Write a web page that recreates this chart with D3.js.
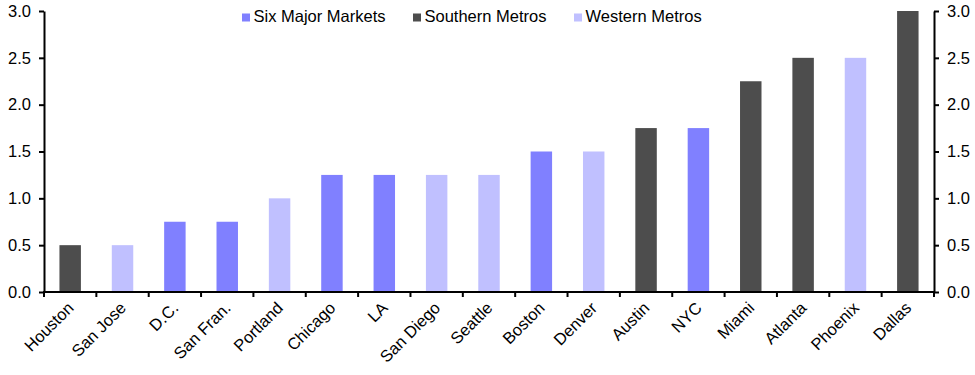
<!DOCTYPE html>
<html><head><meta charset="utf-8">
<script src="https://cdn.jsdelivr.net/npm/d3@7"></script>
<style>body{margin:0;background:#fff}svg{display:block;font-family:"Liberation Sans",Arial,sans-serif}</style>
</head><body><svg id="c" width="975" height="375"></svg>
<script>
const categories = ["Houston","San Jose","D.C.","San Fran.","Portland","Chicago","LA","San Diego","Seattle","Boston","Denver","Austin","NYC","Miami","Atlanta","Phoenix","Dallas"];
const values = [0.5,0.5,0.75,0.75,1.0,1.25,1.25,1.25,1.25,1.5,1.5,1.75,1.75,2.25,2.5,2.5,3.0];
const groups = ["Southern Metros","Western Metros","Six Major Markets","Six Major Markets","Western Metros","Six Major Markets","Six Major Markets","Western Metros","Western Metros","Six Major Markets","Western Metros","Southern Metros","Six Major Markets","Southern Metros","Southern Metros","Western Metros","Southern Metros"];
const seriesNames = ["Six Major Markets","Southern Metros","Western Metros"];
const seriesColors = ["#8080ff","#4d4d4d","#c0c0ff"];
const yTicks = [0,0.5,1,1.5,2,2.5,3];

(function(){
const FS = 16.5;
const svg = d3.select("#c");
const L = 44, R = 934, T = 11, B = 292;
const x = d3.scaleBand().domain(categories).range([L,R]).paddingInner(0.59).paddingOuter(0.295);
const xb = d3.scaleBand().domain(categories).range([L,R]);
const y = d3.scaleLinear().domain([0,3]).range([B,T]);
const color = d3.scaleOrdinal().domain(seriesNames).range(seriesColors);

svg.selectAll("rect.bar").data(categories).join("rect").attr("class","bar")
  .attr("x",d=>x(d)).attr("width",x.bandwidth())
  .attr("y",(d,i)=>y(values[i])).attr("height",(d,i)=>y(0)-y(values[i]))
  .attr("fill",(d,i)=>color(groups[i]));

const fmt = d3.format(".1f");
const gl = svg.append("g").attr("transform",`translate(${L},0)`)
  .call(d3.axisLeft(y).tickValues(yTicks).tickFormat(fmt).tickSize(5).tickSizeOuter(0).tickPadding(8));
const gr = svg.append("g").attr("transform",`translate(${R},0)`)
  .call(d3.axisRight(y).tickValues(yTicks).tickFormat(fmt).tickSize(5).tickSizeOuter(0).tickPadding(8));
[gl,gr].forEach(g=>{
  g.attr("font-size",FS).attr("font-family","Liberation Sans, Arial, sans-serif");
  g.selectAll("text").attr("fill","#000");
  g.select(".domain").attr("stroke","#000").attr("stroke-width",2);
  g.selectAll(".tick line").attr("stroke","#000").attr("stroke-width",2);
});

const gx = svg.append("g").attr("font-size",FS);
gx.append("line").attr("x1",L-1).attr("x2",R+1).attr("y1",B).attr("y2",B).attr("stroke","#000").attr("stroke-width",2);
const bounds = categories.map(c=>xb(c)).concat([R]);
gx.selectAll("line.t").data(bounds).join("line").attr("class","t")
  .attr("x1",d=>d).attr("x2",d=>d).attr("y1",B).attr("y2",B+5).attr("stroke","#000").attr("stroke-width",2);
gx.selectAll("text").data(categories).join("text")
  .attr("transform",d=>`translate(${x(d)+x.bandwidth()/2+4.5},${B+17}) rotate(-45)`)
  .attr("text-anchor","end").attr("fill","#000")
  .text(d=>d);

const legX = [242,413,574];
const lg = svg.append("g").attr("font-size",FS);
seriesNames.forEach((n,i)=>{
  lg.append("rect").attr("x",legX[i]).attr("y",13.5).attr("width",8).attr("height",8).attr("fill",seriesColors[i]);
  lg.append("text").attr("x",legX[i]+11.5).attr("y",22).attr("fill","#000").text(n);
});
})();
</script></body></html>
